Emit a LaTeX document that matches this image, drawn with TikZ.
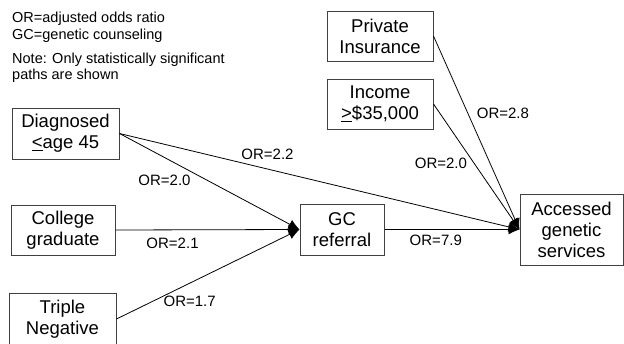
\documentclass[tikz,border=0pt]{standalone}
\usepackage{fontspec}
\setmainfont{Liberation Sans}
\usetikzlibrary{arrows.meta}
\tikzset{
	box/.style={draw=black!75,line width=1pt,align=center,inner sep=0pt,minimum width=#1,minimum height=50pt,font=\fontsize{18.5}{21}\selectfont},
	orl/.style={inner sep=0pt,font=\fontsize{15}{17}\selectfont},
	path/.style={-{Latex[length=11pt,width=10pt]},line width=0.8pt}
}
\begin{document}
\begin{tikzpicture}[x=1pt,y=-1pt]
					\useasboundingbox (0,0) rectangle (624,343);
					\node [anchor=base west,align=left,inner sep=0pt,font=\fontsize{14.5}{17}\selectfont] (legend) at (12,39.5) {OR=adjusted odds ratio\\GC=genetic counseling};
					\node [anchor=base west,align=left,inner sep=0pt,font=\fontsize{14.5}{16}\selectfont] (note) at (12,79) {Note: Only statistically significant\\paths are shown};

					\node [box=107pt,minimum height=51pt] (diag) at (65.5,133.5) {Diagnosed\\\underline{<}age 45};
					\node [box=104pt] (college) at (63,230) {College\\graduate};
					\node [box=107pt,minimum height=52pt] (triple) at (62.5,319) {Triple\\Negative};
					\node [box=84pt,minimum height=51pt] (gc) at (342,229.5) {GC\\referral};
					\node [box=103pt,minimum height=71pt] (acc) at (571.5,229.5) {Accessed\\genetic\\services};
					\node [box=106pt] (priv) at (380,36) {Private\\Insurance};
					\node [box=106pt] (inc) at (380,104) {Income\\\underline{>}\$35,000};

					\draw [path] (diag.east) -- (acc.west) node [orl,pos=0.37,yshift=15pt] (l22) {OR=2.2};
					\draw [path] (diag.east) -- (gc.west) node [orl,pos=0.25,yshift=-23pt] (l20a) {OR=2.0};
					\draw [path] (college.east) -- (gc.west) node [orl,pos=0.31,yshift=-13pt] (l21) {OR=2.1};
					\draw [path] (triple.east) -- (gc.west) node [orl,pos=0.4,yshift=-18pt] (l17) {OR=1.7};
					\draw [path] (gc.east) -- (acc.west) node [orl,pos=0.38,yshift=-10.5pt] (l79) {OR=7.9};
					\draw [path] (priv.east) -- (acc.west) node [orl,pos=0.4,xshift=35pt] (l28) {OR=2.8};
					\draw [path] (inc.east) -- (acc.west) node [orl,pos=0.47,xshift=-33pt] (l20b) {OR=2.0};
				\end{tikzpicture}
\end{document}
